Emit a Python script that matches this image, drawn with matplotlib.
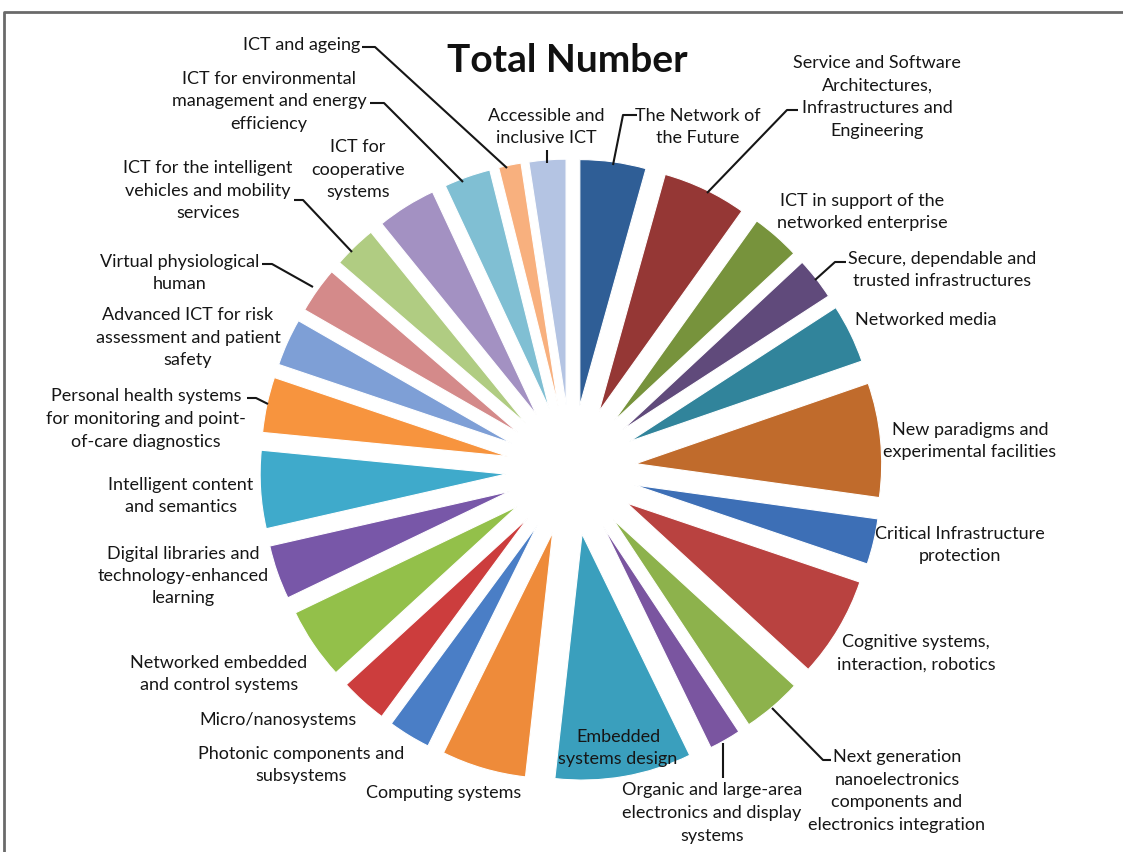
import matplotlib
matplotlib.use("Agg")
import matplotlib.pyplot as plt

# ---------------- data (share of the pie) ----------------
categories = [
    "The Network of\nthe Future",
    "Service and Software\nArchitectures,\nInfrastructures and\nEngineering",
    "ICT in support of the\nnetworked enterprise",
    "Secure, dependable and\ntrusted infrastructures",
    "Networked media",
    "New paradigms and\nexperimental facilities",
    "Critical Infrastructure\nprotection",
    "Cognitive systems,\ninteraction, robotics",
    "Next generation\nnanoelectronics\ncomponents and\nelectronics integration",
    "Organic and large-area\nelectronics and display\nsystems",
    "Embedded\nsystems design",
    "Computing systems",
    "Photonic components and\nsubsystems",
    "Micro/nanosystems",
    "Networked embedded\nand control systems",
    "Digital libraries and\ntechnology-enhanced\nlearning",
    "Intelligent content\nand semantics",
    "Personal health systems\nfor monitoring and point-\nof-care diagnostics",
    "Advanced ICT for risk\nassessment and patient\nsafety",
    "Virtual physiological\nhuman",
    "ICT for the intelligent\nvehicles and mobility\nservices",
    "ICT for\ncooperative\nsystems",
    "ICT for environmental\nmanagement and energy\nefficiency",
    "ICT and ageing",
    "Accessible and\ninclusive ICT",
]
values = [15.6, 19.9, 11.5, 10.0, 13.9, 27.0, 10.8, 23.8, 14.0, 7.5, 32.3, 20.0,
          10.0, 11.1, 16.9, 12.8, 18.4, 13.1, 11.2, 10.9, 10.2, 14.0, 11.0, 5.3, 8.7]
colors = ["#2F5E96", "#953735", "#77933C", "#604A7B", "#31849B", "#C06B2C",
          "#3D6FB6", "#B94240", "#8DB24C", "#7A55A0", "#3A9FBD", "#EE8B3A",
          "#4A7EC6", "#CC3D3D", "#93C04A", "#7857A8", "#3FAACB", "#F7943E",
          "#7E9FD6", "#D48A8A", "#B0CC82", "#A391C2", "#80BFD3", "#F8B07E",
          "#B4C4E3"]

# ---------------- figure ----------------
W, H = 1123, 852
plt.rcParams["font.family"] = ["Lato", "DejaVu Sans"]
fig = plt.figure(figsize=(W / 100, H / 100), dpi=100)
ax = fig.add_axes([0, 0, 1, 1])

cx, cy = 571, H - 470
R = 246
ax.pie(values, colors=colors, startangle=90, counterclock=False,
       radius=R, center=(cx, cy), explode=[65] * len(values),
       wedgeprops=dict(linewidth=0.8, edgecolor="white"))
ax.set_xlim(0, W)
ax.set_ylim(0, H)
ax.set_aspect("equal")
ax.axis("off")

TXT = "#161616"
FS = 13


def label(x, y, s, **kw):
    ax.text(x, H - y, s, ha="center", va="center", fontsize=FS, color=TXT,
            linespacing=1.5, **kw)


def leader(pts):
    xs = [p[0] for p in pts]
    ys = [H - p[1] for p in pts]
    ax.plot(xs, ys, color=TXT, lw=1.5, solid_capstyle="butt")


# label centres (pixel coords, y from top)
pos = [
    (698, 127), (877, 97), (862, 212), (942, 270), (926, 320), (970, 441),
    (960, 545), (916, 653), (897, 791), (712, 813), (618, 748), (444, 793),
    (301, 765), (278, 720), (219, 674), (183, 576), (181, 496), (146, 419),
    (188, 338), (180, 273), (208, 191), (358, 170), (269, 101), (302, 45),
    (546, 127),
]
for (x, y), s in zip(pos, categories):
    label(x, y, s)

# leader lines
leader([(613, 165), (623, 115), (637, 115)])            # Network of the Future
leader([(707, 193), (787, 110), (798, 110)])            # Service and Software
leader([(815, 280), (835, 262), (846, 262)])            # Secure
leader([(772, 708), (823, 760), (831, 760)])            # Next generation
leader([(723, 743), (723, 778)])                        # Organic
leader([(247, 398), (256, 398), (268, 404)])            # Personal health
leader([(262, 264), (272, 264), (313, 287)])            # Virtual physiological
leader([(294, 200), (303, 200), (352, 252)])            # intelligent vehicles
leader([(370, 103), (384, 103), (463, 182)])            # environmental
leader([(362, 47), (375, 47), (507, 168)])              # ageing
leader([(547, 150), (547, 163)])                        # accessible

ax.text(567, H - 60, "Total Number", ha="center", va="center", fontsize=28,
        fontweight="bold", color="#111111")

# frame of the original chart area
ax.plot([4, 4, W], [0, H - 12, H - 12], color="#6a6a6a", lw=2)

fig.savefig("out.png", dpi=100)
